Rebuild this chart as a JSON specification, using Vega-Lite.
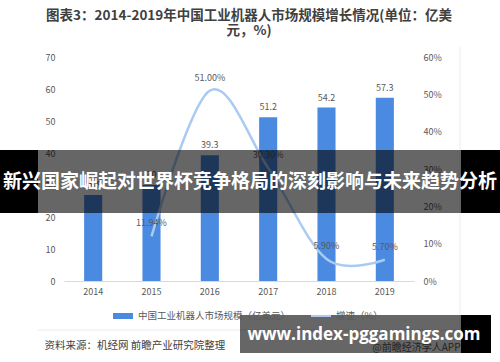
{
  "$schema": "https://vega.github.io/schema/vega-lite/v6.json",
  "width": 350,
  "height": 224,
  "autosize": {"type": "none"},
  "padding": {"left": 64, "top": 57, "right": 86, "bottom": 81},
  "background": "white",
  "config": {
    "font": "Noto Sans CJK SC",
    "view": {"stroke": null},
    "axis": {"grid": false, "ticks": false, "domain": false, "labelFont": "Noto Sans CJK SC", "labelFontSize": 9, "labelColor": "#595959"},
    "legend": {"padding": 0, "labelFont": "Noto Sans CJK SC", "labelFontSize": 9.5, "labelColor": "#595959"}
  },
  "title": {
    "text": ["图表3：2014-2019年中国工业机器人市场规模增长情况(单位：亿美", "元，%)"],
    "fontSize": 13.5, "fontWeight": "bold", "color": "#404040", "anchor": "middle", "offset": 9, "dx": 10, "lineHeight": 15,
    "font": "Noto Sans CJK SC"
  },
  "data": {"values": [
    {"year": "2014", "value": 26.9, "growth": null},
    {"year": "2015", "value": 30, "growth": 0.1194},
    {"year": "2016", "value": 39.3, "growth": 0.51},
    {"year": "2017", "value": 51.2, "growth": 0.303},
    {"year": "2018", "value": 54.2, "growth": 0.059},
    {"year": "2019", "value": 57.3, "growth": 0.057}
  ]},
  "encoding": {
    "x": {"field": "year", "type": "ordinal",
      "scale": {"paddingInner": 0.69, "paddingOuter": 0.345},
      "axis": {"labelAngle": 0, "labelPadding": 6, "domain": true, "domainColor": "#d9d9d9", "domainWidth": 1,
        "title": "资料来源：机经网 前瞻产业研究院整理", "titleFontSize": 10.5, "titleFontWeight": "normal", "titleColor": "#404040",
        "titleAnchor": "start", "titleAlign": "left", "titleX": -20, "titleY": 64, "titleBaseline": "middle", "titleFont": "Noto Sans CJK SC"}}
  },
  "layer": [
    {
      "encoding": {
        "y": {"field": "value", "type": "quantitative",
          "scale": {"domain": [0, 70]},
          "axis": {"values": [0, 10, 20, 30, 40, 50, 60, 70], "labelPadding": 9, "title": null}}
      },
      "layer": [
        {"mark": {"type": "bar"},
         "encoding": {"fill": {"datum": "中国工业机器人市场规模（亿美元）", "type": "nominal", "scale": {"range": ["#4a8ae0"]},
           "legend": {"title": null, "orient": "none", "legendX": 48, "legendY": 248, "symbolType": "M-1,-0.3H1V0.3H-1Z", "symbolSize": 400, "labelOffset": 4}}}},
        {"mark": {"type": "text", "dy": -10, "fontSize": 9, "color": "#595959"},
         "encoding": {"text": {"field": "value", "type": "quantitative"}}}
      ]
    },
    {
      "encoding": {
        "y": {"field": "growth", "type": "quantitative",
          "scale": {"domain": [0, 0.6]},
          "axis": {"orient": "right", "values": [0, 0.1, 0.2, 0.3, 0.4, 0.5, 0.6], "format": ".0%", "labelPadding": 9,
            "title": "@前瞻经济学人APP", "titleAngle": 0, "titleX": 46, "titleY": 290, "titleAlign": "right", "titleBaseline": "middle",
            "titleFontSize": 10, "titleFontWeight": "normal", "titleColor": "#595959", "titleFont": "Noto Sans CJK SC"}}
      },
      "layer": [
        {"mark": {"type": "line", "interpolate": "cardinal", "strokeWidth": 2.5},
         "encoding": {"stroke": {"datum": "增速（%）", "type": "nominal", "scale": {"range": ["#a9cbf2"]},
           "legend": {"title": null, "orient": "none", "legendX": 246, "legendY": 248, "symbolType": "stroke", "symbolSize": 400, "symbolStrokeWidth": 2, "labelOffset": 4}}}},
        {"mark": {"type": "text", "dy": -13, "fontSize": 9, "color": "#595959"},
         "encoding": {"text": {"field": "growth", "type": "quantitative", "format": ".2%"}}}
      ]
    },
    {
      "data": {"values": [{"headline": "新兴国家崛起对世界杯竞争格局的深刻影响与未来趋势分析", "site": "www.index-pggamings.com"}]},
      "layer": [
        {"mark": {"type": "rule", "color": "#e6edf6", "strokeWidth": 1},
         "encoding": {"x": {"value": 396}, "y": {"value": -10}, "y2": {"value": 273}}},
        {"mark": {"type": "rule", "color": "#e6edf6", "strokeWidth": 1},
         "encoding": {"x": {"value": -26}, "x2": {"value": 396}, "y": {"value": 273}}},
        {"mark": {"type": "rect", "color": "#000000", "opacity": 0.6},
         "encoding": {"x": {"value": -26}, "x2": {"value": 397}, "y": {"value": 93}, "y2": {"value": 156}}},
        {"mark": {"type": "rect", "color": "#000000"},
         "encoding": {"x": {"value": -64}, "x2": {"value": -26}, "y": {"value": 93}, "y2": {"value": 156}}},
        {"mark": {"type": "rect", "color": "#000000"},
         "encoding": {"x": {"value": 397}, "x2": {"value": 436}, "y": {"value": 93}, "y2": {"value": 156}}},
        {"mark": {"type": "rect", "color": "#000000", "opacity": 0.6},
         "encoding": {"x": {"value": 176}, "x2": {"value": 397}, "y": {"value": 258}, "y2": {"value": 296}}},
        {"mark": {"type": "rect", "color": "#000000"},
         "encoding": {"x": {"value": 397}, "x2": {"value": 427}, "y": {"value": 258}, "y2": {"value": 296}}},
        {"mark": {"type": "text", "color": "white", "fontSize": 19, "fontWeight": "bold", "font": "Noto Sans CJK SC", "align": "center", "baseline": "middle"},
         "encoding": {"x": {"value": 186}, "y": {"value": 125}, "text": {"field": "headline"}}},
        {"mark": {"type": "text", "color": "white", "fontSize": 17, "fontWeight": "bold", "font": "Open Sans", "align": "center", "baseline": "middle"},
         "encoding": {"x": {"value": 300}, "y": {"value": 278}, "text": {"field": "site"}}}
      ]
    }
  ],
  "resolve": {"scale": {"y": "independent"}}
}
